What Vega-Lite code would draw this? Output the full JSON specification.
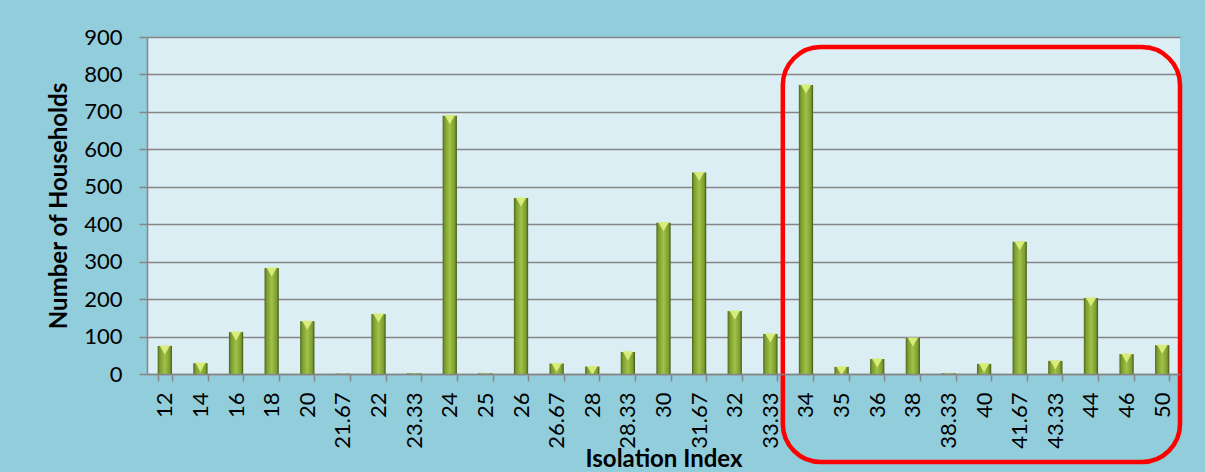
{
  "$schema": "https://vega.github.io/schema/vega-lite/v6.json",
  "width": 1033,
  "height": 337,
  "autosize": {"type": "none"},
  "padding": {"left": 147, "top": 37, "right": 25, "bottom": 98},
  "background": "#92CDDC",
  "config": {
    "view": {"fill": "#DBEEF4", "stroke": null},
    "font": "Lato",
    "axisY": {
      "tickCount": 10,
      "labelOverlap": false,
      "titleFont": "Lato",
      "titleFontSize": 24,
      "titleFontWeight": "bold",
      "titleColor": "#000000",
      "titlePadding": 12,
      "labelFont": "Lato",
      "labelFontSize": 22,
      "labelColor": "#000000",
      "labelPadding": 17,
      "tickSize": 8,
      "tickColor": "#868686",
      "tickWidth": 1.5,
      "domainColor": "#868686",
      "domainWidth": 1.5,
      "grid": true,
      "gridColor": "#868686",
      "gridWidth": 1.5
    }
  },
  "datasets": {
    "counts": [
      {"index": "12", "households": 75},
      {"index": "14", "households": 29},
      {"index": "16", "households": 112},
      {"index": "18", "households": 283},
      {"index": "20", "households": 141},
      {"index": "21.67", "households": 1},
      {"index": "22", "households": 160},
      {"index": "23.33", "households": 2},
      {"index": "24", "households": 690},
      {"index": "25", "households": 2},
      {"index": "26", "households": 470},
      {"index": "26.67", "households": 28},
      {"index": "28", "households": 20},
      {"index": "28.33", "households": 59},
      {"index": "30", "households": 404},
      {"index": "31.67", "households": 538},
      {"index": "32", "households": 168},
      {"index": "33.33", "households": 107},
      {"index": "34", "households": 772},
      {"index": "35", "households": 19},
      {"index": "36", "households": 40},
      {"index": "38", "households": 96},
      {"index": "38.33", "households": 2},
      {"index": "40", "households": 27},
      {"index": "41.67", "households": 353},
      {"index": "43.33", "households": 35},
      {"index": "44", "households": 203},
      {"index": "46", "households": 53},
      {"index": "50", "households": 77}
    ]
  },
  "resolve": {"scale": {"x": "independent"}},
  "layer": [
    {
      "data": {"name": "counts"},
      "layer": [
        {
          "mark": {
            "type": "bar",
            "color": {
              "gradient": "linear",
              "x1": 0, "x2": 1, "y1": 0, "y2": 0,
              "stops": [
                {"offset": 0, "color": "#4A6418"},
                {"offset": 0.15, "color": "#7C9C30"},
                {"offset": 0.5, "color": "#A0C246"},
                {"offset": 0.85, "color": "#7C9C30"},
                {"offset": 1, "color": "#3F5514"}
              ]
            }
          },
          "encoding": {
            "x": {
              "field": "index",
              "type": "nominal",
              "sort": null,
              "scale": {"paddingInner": 0.6, "paddingOuter": 0.3},
              "axis": {
                "title": "Isolation Index",
                "titleFont": "Lato",
                "titleFontSize": 24,
                "titleFontWeight": "bold",
                "titleColor": "#000000",
                "titleBaseline": "alphabetic",
                "titleY": 92,
                "labelAngle": -90,
                "labelFont": "Lato",
                "labelFontSize": 22,
                "labelColor": "#000000",
                "labelPadding": 11,
                "tickBand": "extent",
                "tickSize": 7,
                "tickColor": "#868686",
                "tickWidth": 1.5,
                "domainColor": "#868686",
                "domainWidth": 1.5,
                "grid": false,
                "zindex": 1
              }
            },
            "y": {
              "field": "households",
              "type": "quantitative",
              "title": "Number of Households",
              "scale": {"domain": [0, 900], "nice": false}
            }
          }
        },
        {
          "mark": {"type": "point", "shape": "triangle-down", "filled": true, "color": "#D8EC7A", "size": 110, "yOffset": 4},
          "encoding": {
            "x": {"field": "index", "type": "nominal", "sort": null},
            "y": {"field": "households", "type": "quantitative", "title": "Number of Households"},
            "opacity": {"condition": {"test": "datum.households < 10", "value": 0}, "value": 1}
          }
        }
      ]
    },
    {
      "data": {"values": [{}]},
      "mark": {"type": "rect", "fill": null, "fillOpacity": 0, "stroke": "#FF0000", "strokeWidth": 4.5, "cornerRadius": 38, "clip": false},
      "encoding": {
        "x": {"datum": 17.85, "type": "quantitative", "scale": {"domain": [0, 29], "nice": false, "zero": false}, "axis": null},
        "x2": {"datum": 29},
        "y": {"datum": -235, "type": "quantitative", "title": "Number of Households", "scale": {"domain": [0, 900], "nice": false}},
        "y2": {"datum": 873}
      }
    }
  ]
}
